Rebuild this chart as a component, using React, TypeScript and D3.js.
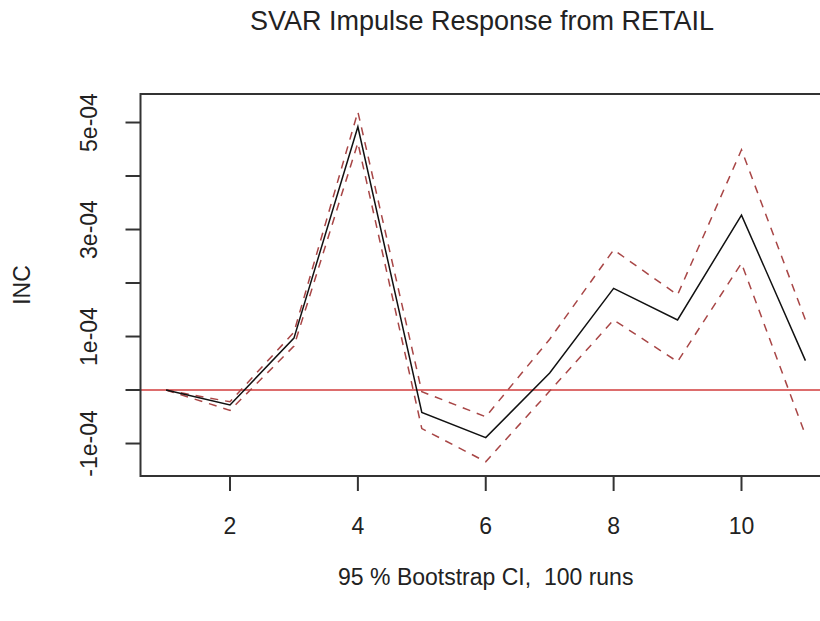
import React from "react";
import * as d3 from "d3";

const horizons = [1, 2, 3, 4, 5, 6, 7, 8, 9, 10, 11];
const irf = [0, -0.28e-4, 0.97e-4, 4.92e-4, -0.42e-4, -0.89e-4, 0.32e-4, 1.9e-4, 1.31e-4, 3.27e-4, 0.55e-4];
const upper = [0, -0.22e-4, 1.08e-4, 5.2e-4, -0.03e-4, -0.5e-4, 0.95e-4, 2.62e-4, 1.78e-4, 4.49e-4, 1.31e-4];
const lower = [0, -0.38e-4, 0.82e-4, 4.62e-4, -0.72e-4, -1.34e-4, -0.02e-4, 1.31e-4, 0.53e-4, 2.37e-4, -0.84e-4];
const xTicks = [2, 4, 6, 8, 10];
const yTicks = [-1e-4, 0, 1e-4, 2e-4, 3e-4, 4e-4, 5e-4];
const yLabels = ["-1e-04", "", "1e-04", "", "3e-04", "", "5e-04"];
const title = "SVAR Impulse Response from RETAIL";
const yTitle = "INC";
const xTitle = "95 % Bootstrap CI,  100 runs";

const W = 820, H = 621;
const L = 140.5, R = 831, T = 94, B = 476;
const FONT = "'Liberation Sans', Arial, Helvetica, sans-serif";

export default function App() {
  const x = d3.scaleLinear().domain([0.6, 11.4]).range([L, R]);
  const y = d3.scaleLinear().domain([-1.607e-4, 5.533e-4]).range([B, T]);
  const line = d3
    .line<number>()
    .x((_, i) => x(horizons[i]))
    .y((d) => y(d));
  const tick = 15;
  return (
    <svg
      width={W}
      height={H}
      style={{ position: "fixed", left: 0, top: 0, background: "#fff" }}
      fontFamily={FONT}
    >
      <rect x={0} y={0} width={W} height={H} fill="#fff" />
      <text x={482} y={30} fontSize={27} textAnchor="middle" fill="#222">
        {title}
      </text>
      {/* zero line */}
      <line x1={L} x2={R} y1={y(0)} y2={y(0)} stroke="#d23c3c" strokeWidth={1.6} />
      <path d={line(upper) || ""} fill="none" stroke="#a84646" strokeWidth={1.5} strokeDasharray="8,7" />
      <path d={line(lower) || ""} fill="none" stroke="#a84646" strokeWidth={1.5} strokeDasharray="8,7" />
      <path d={line(irf) || ""} fill="none" stroke="#111" strokeWidth={1.5} />
      {/* box */}
      <rect x={L} y={T} width={R - L} height={B - T} fill="none" stroke="#333" strokeWidth={2} />
      {/* x axis */}
      <line x1={x(xTicks[0])} x2={x(xTicks[xTicks.length - 1])} y1={B} y2={B} stroke="#333" strokeWidth={2} />
      {xTicks.map((t) => (
        <g key={t}>
          <line x1={x(t)} x2={x(t)} y1={B} y2={B + tick} stroke="#333" strokeWidth={2} />
          <text x={x(t)} y={526} fontSize={23} textAnchor="middle" dominantBaseline="central" fill="#222">
            {t}
          </text>
        </g>
      ))}
      {/* y axis */}
      {yTicks.map((t, i) => (
        <g key={i}>
          <line x1={L - tick} x2={L} y1={y(t)} y2={y(t)} stroke="#333" strokeWidth={2} />
          {yLabels[i] && (
            <text
              transform={`translate(89,${y(t)}) rotate(-90)`}
              fontSize={23}
              textAnchor="middle"
              dominantBaseline="central"
              fill="#222"
            >
              {yLabels[i]}
            </text>
          )}
        </g>
      ))}
      <text
        transform={`translate(22,${(T + B) / 2}) rotate(-90)`}
        fontSize={23}
        textAnchor="middle"
        dominantBaseline="central"
        fill="#222"
      >
        {yTitle}
      </text>
      <text x={(L + R) / 2} y={577} fontSize={23} textAnchor="middle" dominantBaseline="central" fill="#222" style={{ whiteSpace: "pre" }}>
        {xTitle}
      </text>
    </svg>
  );
}
